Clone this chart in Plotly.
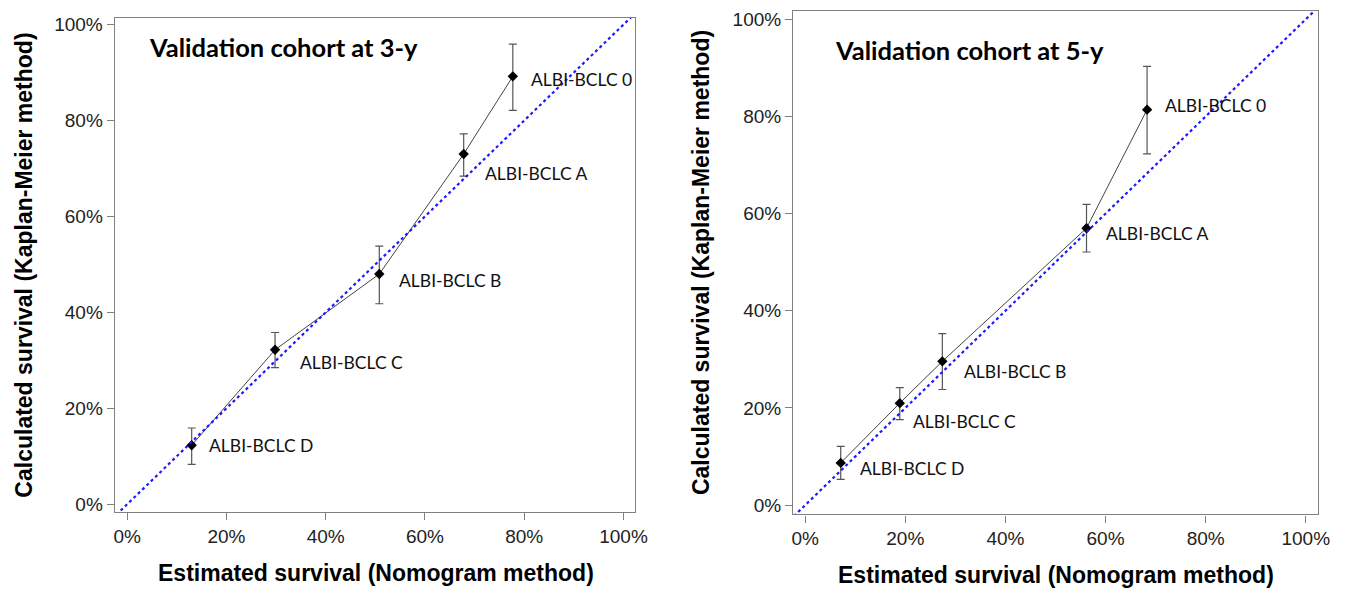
import plotly.graph_objects as go

# ---------------- data ----------------
groups = ["ALBI-BCLC D", "ALBI-BCLC C", "ALBI-BCLC B", "ALBI-BCLC A", "ALBI-BCLC 0"]

# 3-year validation cohort
est_3y = [13.0, 29.8, 50.8, 67.8, 77.7]
obs_3y = [12.3, 32.2, 48.0, 73.0, 89.2]
upper_3y = [15.9, 35.8, 53.8, 77.2, 95.9]
lower_3y = [8.3, 28.5, 41.8, 68.4, 82.1]
label_x_3y = [16.1, 34.4, 54.4, 71.7, 81.0]
label_y_3y = [12.3, 29.5, 46.6, 68.9, 88.5]

# 5-year validation cohort
est_5y = [7.1, 18.9, 27.4, 56.2, 68.3]
obs_5y = [8.7, 21.0, 29.6, 57.0, 81.4]
upper_5y = [12.1, 24.2, 35.3, 61.9, 90.3]
lower_5y = [5.3, 17.6, 23.8, 52.1, 72.3]
label_x_5y = [10.5, 21.1, 31.3, 59.6, 71.5]
label_y_5y = [7.5, 17.2, 27.5, 56.0, 82.3]

diag = [-10, 110]
tick_vals = [0, 20, 40, 60, 80, 100]
tick_text = ["0%", "20%", "40%", "60%", "80%", "100%"]

titles = ["Validation cohort at 3-y", "Validation cohort at 5-y"]
x_title = "Estimated survival (Nomogram method)"
y_title = "Calculated survival (Kaplan-Meier method)"

# ---------------- figure ----------------
W, H = 1357, 593
fig = go.Figure()

panels = [
    dict(est=est_3y, obs=obs_3y, up=upper_3y, lo=lower_3y, lx=label_x_3y, ly=label_y_3y,
         xa="x", ya="y"),
    dict(est=est_5y, obs=obs_5y, up=upper_5y, lo=lower_5y, lx=label_x_5y, ly=label_y_5y,
         xa="x2", ya="y2"),
]

for p in panels:
    err_plus = [u - o for u, o in zip(p["up"], p["obs"])]
    err_minus = [o - l for o, l in zip(p["obs"], p["lo"])]
    fig.add_trace(go.Scatter(
        x=p["est"], y=p["obs"], mode="lines+markers",
        line=dict(color="#444444", width=1),
        marker=dict(symbol="diamond", size=8, color="black"),
        error_y=dict(type="data", array=err_plus, arrayminus=err_minus,
                     color="#555555", thickness=1.2, width=4),
        xaxis=p["xa"], yaxis=p["ya"], showlegend=False, hoverinfo="skip"))
    fig.add_trace(go.Scatter(
        x=diag, y=diag, mode="lines",
        line=dict(color="#1a1aff", width=2.2, dash="dot"),
        xaxis=p["xa"], yaxis=p["ya"], showlegend=False, hoverinfo="skip"))
    for g, lx, ly in zip(groups, p["lx"], p["ly"]):
        fig.add_annotation(x=lx, y=ly, xref=p["xa"], yref=p["ya"], text=g,
                           showarrow=False, xanchor="left", yanchor="middle",
                           font=dict(family="Lato", size=17.5, color="#111111"))

def fx(px):
    return min(px / W, 1.0)

def fy(py):
    return 1 - py / H

axis_common = dict(
    showline=True, mirror=True, linecolor="#808080", linewidth=1.3,
    ticks="outside", ticklen=7, tickcolor="#808080", tickwidth=1.2,
    tickvals=tick_vals, ticktext=tick_text, showgrid=False, zeroline=False,
    tickfont=dict(family="Liberation Sans", size=19, color="#222222"),
)

fig.update_layout(
    width=W, height=H, autosize=False,
    margin=dict(l=0, r=0, t=0, b=0),
    plot_bgcolor="white", paper_bgcolor="white",
    xaxis=dict(domain=[fx(114), fx(640)], range=[-2.5, 102.3], anchor="y", **axis_common),
    yaxis=dict(domain=[fy(514), fy(14)], range=[-1.6, 101.4], anchor="x", **axis_common),
    xaxis2=dict(domain=[fx(800), fx(1331)], range=[-2.4, 102.5], anchor="y2", **axis_common),
    yaxis2=dict(domain=[fy(516.5), fy(6.6)], range=[-1.9, 101.8], anchor="x2", **axis_common),
)

# panel titles
fig.add_annotation(x=0.0616, y=0.94, xref="x domain", yref="y domain", text="<b>" + titles[0] + "</b>",
                   showarrow=False, xanchor="left", yanchor="middle",
                   font=dict(family="Lato", size=25.5, color="black"))
fig.add_annotation(x=0.0763, y=0.922, xref="x2 domain", yref="y2 domain", text="<b>" + titles[1] + "</b>",
                   showarrow=False, xanchor="left", yanchor="middle",
                   font=dict(family="Lato", size=25.5, color="black"))

# axis titles
title_font = dict(family="Liberation Sans", size=23, color="black")
for xc, yc in [(378, 576), (1066, 578)]:
    fig.add_annotation(x=fx(xc), y=fy(yc), xref="paper", yref="paper", text="<b>" + x_title + "</b>",
                       showarrow=False, xanchor="center", yanchor="middle", font=title_font)
for xc, yc in [(22, 264), (707, 262)]:
    fig.add_annotation(x=fx(xc), y=fy(yc), xref="paper", yref="paper", text="<b>" + y_title + "</b>",
                       showarrow=False, xanchor="center", yanchor="middle", textangle=-90, font=title_font)

post = (
    "document.documentElement.style.margin='0';"
    "document.documentElement.style.overflow='hidden';"
    "document.body.style.margin='0';document.body.style.overflow='hidden';"
)
fig.write_html("out.html", config={"displayModeBar": False, "responsive": False},
               post_script=post)
